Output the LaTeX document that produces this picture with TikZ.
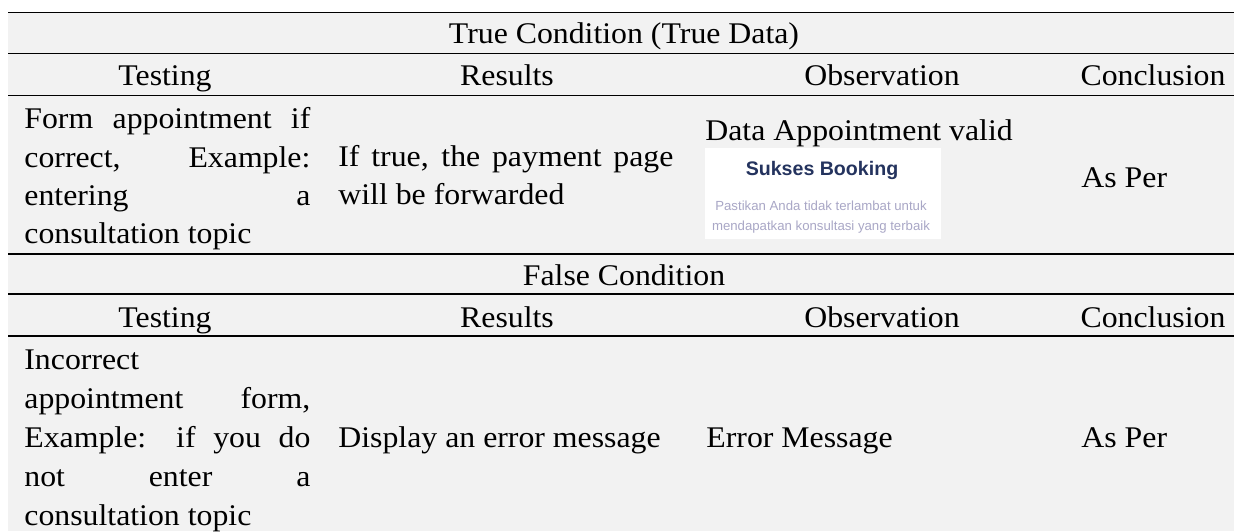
\documentclass[tikz,border=0pt]{standalone}
\usepackage{fontspec}
\setmainfont{Liberation Serif}[FakeStretch=1.06]
\newfontfamily\shotfont{Liberation Sans}
\definecolor{bgray}{HTML}{F2F2F2}
\definecolor{navy}{HTML}{24335E}
\definecolor{lilac}{HTML}{A9A7C6}
\newcommand{\jline}[2]{\makebox[#1][s]{#2}}
\begin{document}
\begin{tikzpicture}[x=0.5pt,y=-0.5pt,
  txt/.style={inner sep=0pt, font=\fontsize{15}{19.5}\selectfont},
  thinrule/.style={line width=0.5pt, black},
  thickrule/.style={line width=0.75pt, black},
  shot/.style={fill=white, inner sep=0pt, minimum width=118pt, minimum height=45.5pt},
  shottitle/.style={inner sep=0pt, font=\shotfont\bfseries\fontsize{9.8}{11}\selectfont, text=navy},
  shottext/.style={inner sep=0pt, font=\shotfont\fontsize{6.6}{8}\selectfont, text=lilac}]
\useasboundingbox (0,0) rectangle (1234,531);
\fill[bgray] (8,12) rectangle (1234,531);
% rules
\coordinate (r1a) at (8,12);   \coordinate (r1b) at (1234,12);
\coordinate (r2a) at (8,53);   \coordinate (r2b) at (1234,53);
\coordinate (r3a) at (8,95);   \coordinate (r3b) at (1234,95);
\coordinate (r4a) at (8,254);  \coordinate (r4b) at (1234,254);
\coordinate (r5a) at (8,294);  \coordinate (r5b) at (1234,294);
\coordinate (r6a) at (8,336);  \coordinate (r6b) at (1234,336);
\draw[thinrule] (r1a) -- (r1b);
\draw[thinrule] (r2a) -- (r2b);
\draw[thinrule] (r3a) -- (r3b);
\draw[thickrule] (r4a) -- (r4b);
\draw[thickrule] (r5a) -- (r5b);
\draw[thickrule] (r6a) -- (r6b);
% true condition
\node[txt, anchor=base] (t1) at (624,43) {True Condition (True Data)};
\node[txt, anchor=base] (h1a) at (165,85) {Testing};
\node[txt, anchor=base] (h1b) at (507,85) {Results};
\node[txt, anchor=base] (h1c) at (882,85) {Observation};
\node[txt, anchor=base] (h1d) at (1153,85) {Conclusion};
\node[txt, anchor=base west] (a1) at (24,128) {\jline{143pt}{Form appointment if}};
\node[txt, anchor=base west] (a2) at (24,167) {\jline{143pt}{correct, Example:}};
\node[txt, anchor=base west] (a3) at (24,205) {\jline{143pt}{entering a}};
\node[txt, anchor=base west] (a4) at (24,243) {consultation topic};
\node[txt, anchor=base west] (b1) at (338,166) {\jline{167.5pt}{If true, the payment page}};
\node[txt, anchor=base west] (b2) at (338,204) {will be forwarded};
\node[txt, anchor=base west] (c1) at (705,140) {Data Appointment valid};
\node[shot] (img) at (823,193.5) {};
\node[shottitle, anchor=base] (img1) at (822,175) {Sukses Booking};
\node[shottext, anchor=base] (img2) at (821,210) {Pastikan Anda tidak terlambat untuk};
\node[shottext, anchor=base] (img3) at (821,230) {mendapatkan konsultasi yang terbaik};
\node[txt, anchor=base west] (d1) at (1081,187) {As Per};
% false condition
\node[txt, anchor=base] (t2) at (624,285) {False Condition};
\node[txt, anchor=base] (h2a) at (165,327) {Testing};
\node[txt, anchor=base] (h2b) at (507,327) {Results};
\node[txt, anchor=base] (h2c) at (882,327) {Observation};
\node[txt, anchor=base] (h2d) at (1153,327) {Conclusion};
\node[txt, anchor=base west] (e1) at (24,369) {Incorrect};
\node[txt, anchor=base west] (e2) at (24,408) {\jline{143pt}{appointment form,}};
\node[txt, anchor=base west] (e3) at (24,447) {\jline{143pt}{Example: if you do}};
\node[txt, anchor=base west] (e4) at (24,486) {\jline{143pt}{not enter a}};
\node[txt, anchor=base west] (e5) at (24,525) {consultation topic};
\node[txt, anchor=base west] (f1) at (338,447) {Display an error message};
\node[txt, anchor=base west] (g1) at (706,447) {Error Message};
\node[txt, anchor=base west] (k1) at (1081,447) {As Per};
\end{tikzpicture}
\end{document}
